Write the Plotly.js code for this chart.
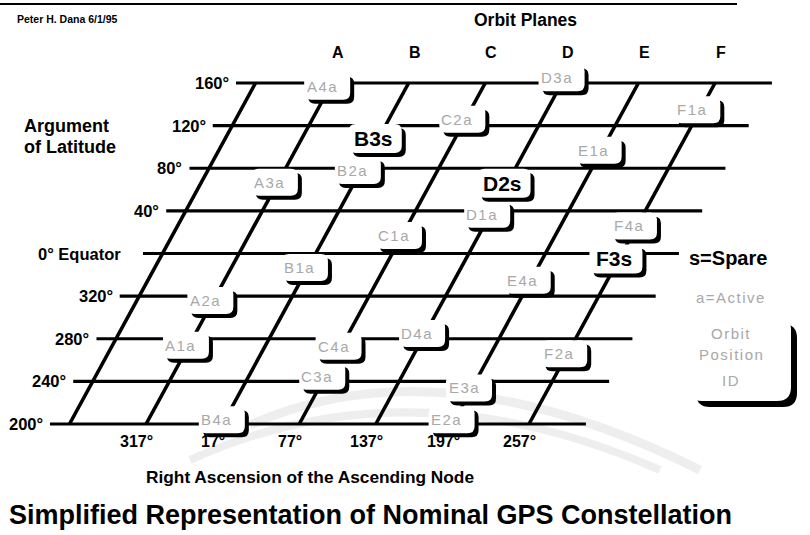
<!DOCTYPE html>
<html>
<head>
<meta charset="utf-8">
<script src="https://cdn.plot.ly/plotly-3.0.1.min.js"></script>
<style>html,body{margin:0;padding:0;background:#fff;}#chart{width:810px;height:535px;}</style>
</head>
<body>
<div id="chart"></div>
<script>
// ---------- data ----------
const planeNames = ['A', 'B', 'C', 'D', 'E', 'F'];
const planeRAAN = [317, 17, 77, 137, 197, 257];
const raanLabels = ['317°', '17°', '77°', '137°', '197°', '257°'];
const argLatLevels = [200, 240, 280, 320, 0, 40, 80, 120, 160];
const argLatLabels = ['200°', '240°', '280°', '320°', '0° Equator', '40°', '80°', '120°', '160°'];
const satIds = ['A1a','A2a','A3a','A4a','B1a','B2a','B3s','B4a','C1a','C2a','C3a','C4a',
                'D1a','D2s','D3a','D4a','E1a','E2a','E3a','E4a','F1a','F2a','F3s','F4a'];
const satArgLat = [272, 314, 65, 155, 345, 76, 106, 202, 15, 124, 243, 271,
                   35, 64, 163, 283, 95, 202, 232, 333, 133, 264, 353, 24];
const legendLines = ['Orbit', 'Position', 'ID'];

// ---------- geometry of the sheared grid ----------
const SX = 1.2764, SY = 1.0656;       // px per degree (RAAN, arg. of latitude)
const K = 0.4554;                      // shear: RAAN degrees per degree of latitude
const X_MIN = -157.45, X_MAX = 477.15, Y_MIN = 95.83, Y_MAX = 597.9;
const GRID_START = -118.3, GRID_END = 301.6;
const U0 = 200, U1 = 520;
const unwrapU = u => (u >= 200 ? u : u + 360);
const unwrapR = r => (r >= 317 ? r - 360 : r);
const X = (r, u) => r + K * (u - U0);

const FONT = 'Liberation Sans, Arial, Helvetica, sans-serif';
const traces = [], shapes = [], annotations = [];

// horizontal lines
const hx = [], hy = [];
argLatLevels.forEach(l => {
  const u = unwrapU(l);
  hx.push(X(GRID_START, u), X(GRID_END, u), null);
  hy.push(u, u, null);
});
traces.push({x: hx, y: hy, mode: 'lines', line: {color: '#000', width: 3.2}, hoverinfo: 'skip'});

// plane lines (plus the wrapped copy of plane F on the left)
const px = [], py = [];
const planeR = planeRAAN.map(unwrapR);
const allR = [planeR[5] - 360].concat(planeR);
allR.forEach(r => { px.push(X(r, U0), X(r, U1), null); py.push(U0, U1, null); });
traces.push({x: px, y: py, mode: 'lines', line: {color: '#000', width: 3.6}, hoverinfo: 'skip'});

// rounded rectangle path in data coords (sizes in px)
function rr(cx, cy, w, h, r) {
  const hw = w / 2 / SX, hh = h / 2 / SY, rx = r / SX, ry = r / SY;
  const x0 = cx - hw, x1 = cx + hw, yT = cy + hh, yB = cy - hh;
  return `M${x0 + rx},${yT} L${x1 - rx},${yT} Q${x1},${yT} ${x1},${yT - ry} L${x1},${yB + ry} Q${x1},${yB} ${x1 - rx},${yB} L${x0 + rx},${yB} Q${x0},${yB} ${x0},${yB + ry} L${x0},${yT - ry} Q${x0},${yT} ${x0 + rx},${yT} Z`;
}

// satellites
satIds.forEach((id, i) => {
  const p = planeNames.indexOf(id[0]);
  const u = unwrapU(satArgLat[i]);
  const cx = X(planeR[p], u), cy = u;
  const spare = id.endsWith('s');
  const w = spare ? 53 : 46, h = spare ? 29 : 27, off = 4;
  shapes.push({type: 'path', xref: 'x', yref: 'y', layer: 'above',
    path: rr(cx + off / 2 / SX, cy - off / 2 / SY, w, h, 7), fillcolor: '#000', line: {width: 0}});
  shapes.push({type: 'path', xref: 'x', yref: 'y', layer: 'above',
    path: rr(cx - off / 2 / SX, cy + off / 2 / SY, w, h, 7), fillcolor: '#fff', line: {width: 0}});
  annotations.push({x: cx, y: cy, xref: 'x', yref: 'y', showarrow: false,
    xshift: spare ? -4 : -7, yshift: 2,
    text: spare ? id : '<span style="letter-spacing:1.5px">' + id + '</span>',
    font: spare ? {family: FONT, size: 21, color: '#000', weight: 700}
                : {family: FONT, size: 15, color: '#a8a8a8'}});
});

// latitude labels at the start of each horizontal line
argLatLevels.forEach((l, i) => {
  const u = unwrapU(l);
  annotations.push({x: X(GRID_START, u), y: u, xref: 'x', yref: 'y', showarrow: false,
    xanchor: 'right', yanchor: 'middle', xshift: argLatLabels[i].includes('Equator') ? -20 : -5,
    text: argLatLabels[i], font: {family: FONT, size: 16.5, color: '#000', weight: 700}});
});

// plane names on top, RAAN labels at bottom
planeNames.forEach((n, i) => {
  annotations.push({x: X(planeR[i], U1), y: 549, xref: 'x', yref: 'y', showarrow: false,
    xshift: 6, text: n, font: {family: FONT, size: 16, color: '#000', weight: 700}});
  annotations.push({x: X(planeR[i], 184), y: 184, xref: 'x', yref: 'y', showarrow: false,
    text: raanLabels[i], font: {family: FONT, size: 16, color: '#000', weight: 700}});
});

// free texts (paper coords from pixel positions)
const P = (x, y) => ({x: x / 810, y: 1 - y / 535, xref: 'paper', yref: 'paper'});
function txt(x, y, text, size, opts = {}) {
  annotations.push(Object.assign(P(x, y), {text, showarrow: false, xanchor: opts.xa || 'center',
    yanchor: 'middle', font: {family: FONT, size, color: opts.color || '#000', weight: opts.w === undefined ? 700 : opts.w}}));
}
txt(15, 19, 'Peter H. Dana 6/1/95', 10.5, {xa: 'left'});
txt(525, 20, 'Orbit Planes', 17.5);
txt(22, 126, 'Argument', 18, {xa: 'left'});
txt(22, 147, 'of Latitude', 18, {xa: 'left'});
txt(728, 258, 's=Spare', 20);
txt(310, 477, 'Right Ascension of the Ascending Node', 17.3);
txt(7, 515, 'Simplified Representation of Nominal GPS Constellation', 27, {xa: 'left'});
txt(731, 297, '<span style="letter-spacing:1.5px">a=Active</span>', 15, {color: '#a8a8a8', w: 400});
const legY = [333, 354, 380];
legendLines.forEach((t, i) => txt(731, legY[i], '<span style="letter-spacing:1.5px">' + t + '</span>', 15, {color: '#a8a8a8', w: 400}));

// legend box (pixel coords)
function rrPx(x0, y0, x1, y1, r) {
  const a = v => v / 810, b = v => 1 - v / 535;
  return `M${a(x0 + r)},${b(y0)} L${a(x1 - r)},${b(y0)} Q${a(x1)},${b(y0)} ${a(x1)},${b(y0 + r)} L${a(x1)},${b(y1 - r)} Q${a(x1)},${b(y1)} ${a(x1 - r)},${b(y1)} L${a(x0 + r)},${b(y1)} Q${a(x0)},${b(y1)} ${a(x0)},${b(y1 - r)} L${a(x0)},${b(y0 + r)} Q${a(x0)},${b(y0)} ${a(x0 + r)},${b(y0)} Z`;
}
shapes.push({type: 'path', xref: 'paper', yref: 'paper', layer: 'above', path: rrPx(696, 324, 797, 407, 14), fillcolor: '#000', line: {width: 0}});
shapes.push({type: 'path', xref: 'paper', yref: 'paper', layer: 'above', path: rrPx(688, 316, 791, 401, 14), fillcolor: '#fff', line: {width: 0}});

// top rule
shapes.push({type: 'line', xref: 'paper', yref: 'paper', x0: 0, x1: 737 / 810, y0: 1 - 4 / 535, y1: 1 - 4 / 535, line: {color: '#000', width: 2}});

// faint watermark arcs
const qa = (x0, y0, cx, cy, x1, y1) => `M${x0 / 810},${1 - y0 / 535} Q${cx / 810},${1 - cy / 535} ${x1 / 810},${1 - y1 / 535}`;
shapes.push({type: 'path', xref: 'paper', yref: 'paper', layer: 'below', path: qa(250, 425, 440, 340, 700, 470), line: {color: '#eeeeee', width: 9}});
shapes.push({type: 'path', xref: 'paper', yref: 'paper', layer: 'below', path: qa(190, 460, 410, 360, 660, 470), line: {color: '#eeeeee', width: 8}});

const layout = {
  width: 810, height: 535, autosize: false,
  margin: {l: 0, r: 0, t: 0, b: 0, pad: 0},
  paper_bgcolor: '#fff', plot_bgcolor: '#fff', showlegend: false,
  xaxis: {range: [X_MIN, X_MAX], visible: false, fixedrange: true},
  yaxis: {range: [Y_MIN, Y_MAX], visible: false, fixedrange: true},
  shapes, annotations
};
Plotly.newPlot('chart', traces, layout, {staticPlot: true, displayModeBar: false});
</script>
</body>
</html>
